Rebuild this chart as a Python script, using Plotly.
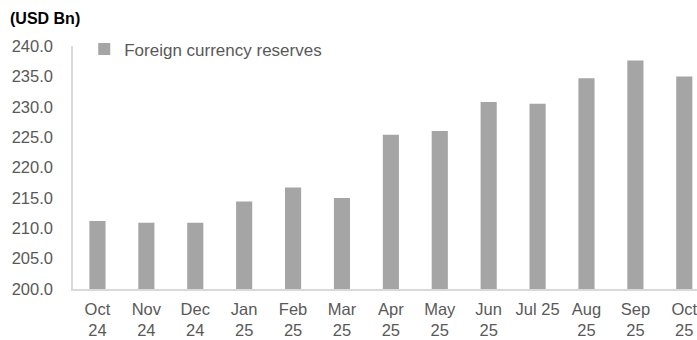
import plotly.graph_objects as go

categories = ["Oct<br>24", "Nov<br>24", "Dec<br>24", "Jan<br>25", "Feb<br>25", "Mar<br>25",
              "Apr<br>25", "May<br>25", "Jun<br>25", "Jul 25", "Aug<br>25", "Sep<br>25", "Oct<br>25"]
reserves = [211.2, 210.9, 210.9, 214.4, 216.7, 215.0, 225.4, 226.0, 230.8, 230.5, 234.7, 237.6, 235.0]
y_ticks = [200, 205, 210, 215, 220, 225, 230, 235, 240]

font_family = "Liberation Sans, Arial, sans-serif"

fig = go.Figure()
fig.add_trace(go.Bar(
    x=list(range(len(categories))), y=reserves, name="Foreign currency reserves",
    marker=dict(color="#a5a5a5", line=dict(width=0)), width=0.33, showlegend=True,
))

fig.update_layout(
    width=697, height=340,
    margin=dict(l=73, r=0, t=46, b=51, autoexpand=False),
    paper_bgcolor="white", plot_bgcolor="white",
    font=dict(family=font_family, size=17, color="#595959"),
    xaxis=dict(
        tickmode="array", tickvals=list(range(len(categories))), ticktext=categories,
        range=[-0.5, 12.26], showgrid=False, zeroline=False, automargin=False,
        showline=True, linecolor="#d9d9d9", linewidth=1.5, ticks="",
        ticklabelstandoff=4, ticklabeloverflow="allow",
        tickfont=dict(size=16.5, color="#595959"),
    ),
    yaxis=dict(
        range=[200, 240], tickvals=y_ticks, ticktext=[f"{v:.1f}" for v in y_ticks],
        showgrid=False, zeroline=False, showline=True, linecolor="#d9d9d9", linewidth=1.5,
        automargin=False,
        ticks="", ticklabelstandoff=15, tickfont=dict(size=16.5, color="#595959"),
    ),
    legend=dict(x=0.018, y=1.06, xanchor="left", yanchor="top", bgcolor="rgba(0,0,0,0)",
                font=dict(size=17, color="#595959"), itemwidth=30, tracegroupgap=0),
    annotations=[dict(text="<b>(USD Bn)</b>", xref="paper", yref="paper",
                      x=-0.104, y=1.0, yshift=38, xanchor="left", yanchor="top",
                      showarrow=False, font=dict(size=16, color="#000000"))],
)

fig.write_html("out.html")
